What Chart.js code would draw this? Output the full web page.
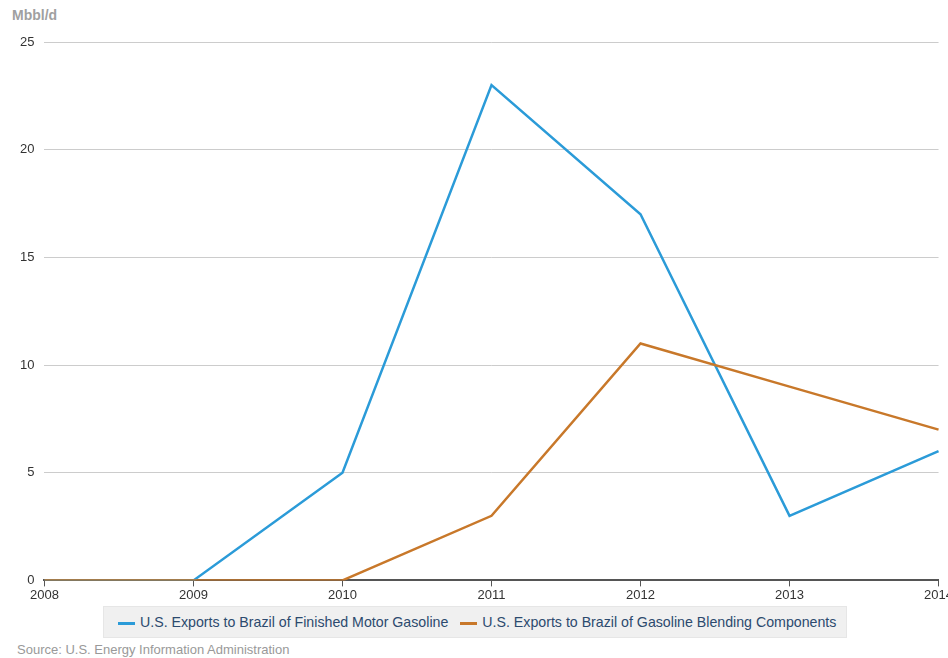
<!DOCTYPE html>
<html lang="en">
<head>
    <meta charset="UTF-8">
    <script src="https://cdn.jsdelivr.net/npm/chart.js"></script>
    <title>U.S. Exports to Brazil</title>
    <style>
        body {
            margin: 0;
            width: 948px;
            height: 658px;
            overflow: hidden;
            background: #fff;
            font-family: "Liberation Sans", Arial, sans-serif;
        }
        .unit {
            position: absolute;
            left: 12px;
            top: 7px;
            font-size: 14px;
            font-weight: bold;
            color: #a0a0a0;
        }
        .chart-box {
            position: absolute;
            left: 0;
            top: 0;
            width: 954px;
            height: 604px;
        }
        .legend {
            position: absolute;
            left: 103px;
            top: 606px;
            height: 30px;
            padding: 0 10px 0 14px;
            background: #f0f0f0;
            border: 1px solid #e6e6e6;
            display: flex;
            align-items: center;
            font-size: 14.2px;
            color: #2c4a6e;
        }
        .legend span.key {
            display: inline-block;
            width: 17px;
            height: 3px;
            margin-right: 5px;
            vertical-align: middle;
        }
        .legend .item {
            margin-right: 12px;
        }
        .legend .item:last-child {
            margin-right: 0;
        }
        .source {
            position: absolute;
            left: 17px;
            top: 642px;
            font-size: 13px;
            color: #999;
        }
    </style>
</head>
<body>

<div class="unit">Mbbl/d</div>
<div class="chart-box">
    <canvas id="exports"></canvas>
</div>
<div class="legend" id="legend"></div>
<div class="source">Source: U.S. Energy Information Administration</div>

<script>
    // years on the x axis
    const years = ['2008', '2009', '2010', '2011', '2012', '2013', '2014'];
    // thousand barrels per day
    const finishedGasoline = [0, 0, 5, 23, 17, 3, 6];
    const blendingComponents = [0, 0, 0, 3, 11, 9, 7];
    const yTicks = [0, 5, 10, 15, 20, 25];

    const seriesNames = [
        'U.S. Exports to Brazil of Finished Motor Gasoline',
        'U.S. Exports to Brazil of Gasoline Blending Components'
    ];
    const seriesColors = ['#2b9bd8', '#c8782a'];

    const tickFont = { family: '"Liberation Sans", Arial, sans-serif', size: 13 };

    const chart = new Chart(document.getElementById('exports'), {
        type: 'line',
        data: {
            labels: years,
            datasets: [{
                label: seriesNames[0],
                data: finishedGasoline,
                borderColor: seriesColors[0],
                borderWidth: 2.5,
                fill: false,
                order: 1
            }, {
                label: seriesNames[1],
                data: blendingComponents,
                borderColor: seriesColors[1],
                borderWidth: 2.5,
                fill: false,
                order: 0 // orange sits on top where both are zero
            }]
        },
        options: {
            animation: false,
            responsive: true,
            maintainAspectRatio: false,
            elements: {
                point: { radius: 0 },
                line: { tension: 0 }
            },
            layout: {
                padding: { top: 42, left: 10, right: 0, bottom: 0 }
            },
            scales: {
                x: {
                    grid: {
                        display: true,
                        drawOnChartArea: false,
                        tickLength: 6,
                        color: '#555'
                    },
                    border: { color: '#555', width: 2 },
                    ticks: {
                        color: '#333',
                        font: tickFont,
                        maxRotation: 0,
                        autoSkip: false,
                        padding: 1
                    }
                },
                y: {
                    min: 0,
                    max: 25,
                    afterBuildTicks: (axis) => {
                        axis.ticks = yTicks.map(v => ({ value: v }));
                    },
                    grid: {
                        color: '#cccccc',
                        drawTicks: false
                    },
                    border: { display: false },
                    ticks: {
                        color: '#333',
                        font: tickFont,
                        padding: 10
                    }
                }
            },
            plugins: {
                legend: { display: false },
                tooltip: { enabled: false }
            }
        }
    });

    // legend below the chart
    const legend = document.getElementById('legend');
    seriesNames.forEach((name, i) => {
        const item = document.createElement('div');
        item.className = 'item';
        item.innerHTML = '<span class="key" style="background:' + seriesColors[i] + '"></span>' + name;
        legend.appendChild(item);
    });
</script>

</body>
</html>
